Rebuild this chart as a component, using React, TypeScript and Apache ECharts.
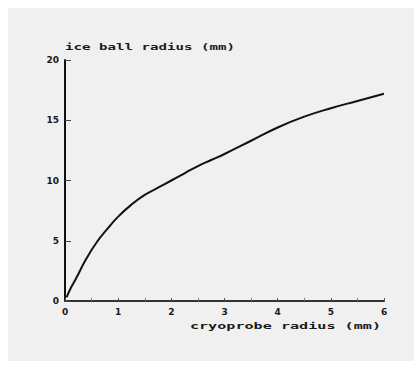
import React, { useEffect, useRef } from "react";
import * as echarts from "echarts";

const probeRadius = [0.03, 0.1, 0.2, 0.4, 0.6, 0.8, 1.0, 1.25, 1.5, 1.75, 2.0, 2.25, 2.5, 2.75, 3.0, 3.5, 4.0, 4.5, 5.0, 5.5, 6.0];
const iceBallRadius = [0.3, 1.0, 1.8, 3.5, 4.9, 6.0, 7.0, 8.0, 8.8, 9.4, 10.0, 10.6, 11.2, 11.7, 12.2, 13.3, 14.4, 15.3, 16.0, 16.6, 17.2];
const yTitle = "ice ball radius (mm)";
const xTitle = "cryoprobe radius (mm)";

export default function App() {
  const ref = useRef<HTMLDivElement>(null);
  useEffect(() => {
    document.body.style.margin = "0";
    const chart = echarts.init(ref.current!, null, { renderer: "svg" });
    const font = "DejaVu Sans";
    const mono = "DejaVu Sans Mono";
    chart.setOption({
      animation: false,
      backgroundColor: "#ffffff",
      graphic: [
        { type: "rect", left: 8, top: 8, shape: { width: 406, height: 353 }, style: { fill: "#f0f0f0" }, z: -10 },
        {
          type: "text",
          x: 65,
          y: 42,
          scaleX: 1.57,
          style: { text: yTitle, font: `bold 9px '${mono}'`, fill: "#1a1a1a", textAlign: "left", textVerticalAlign: "top" },
        },
        {
          type: "text",
          x: 381,
          y: 321,
          scaleX: 1.68,
          style: { text: xTitle, font: `bold 9px '${mono}'`, fill: "#1a1a1a", textAlign: "right", textVerticalAlign: "top" },
        },
      ],
      grid: { left: 65, right: 35, top: 60, bottom: 68 },
      xAxis: {
        type: "value",
        min: 0,
        max: 6,
        interval: 1,
        axisLine: { show: true, lineStyle: { color: "#333", width: 2 } },
        axisTick: { show: true, inside: true, length: 3, lineStyle: { color: "#555" } },
        minorTick: { show: true, splitNumber: 2, length: 3, lineStyle: { color: "#777" } },
        splitLine: { show: false },
        axisLabel: { color: "#1a1a1a", fontFamily: font, fontWeight: "bold", fontSize: 9, margin: 6 },
      },
      yAxis: {
        type: "value",
        min: 0,
        max: 20,
        interval: 5,
        axisLine: { show: true, lineStyle: { color: "#111", width: 2 } },
        axisTick: { show: true, inside: true, length: 6, lineStyle: { color: "#444" } },
        splitLine: { show: false },
        axisLabel: { color: "#1a1a1a", fontFamily: font, fontWeight: "bold", fontSize: 9, margin: 6 },
      },
      series: [
        {
          type: "line",
          data: probeRadius.map((x, i) => [x, iceBallRadius[i]]),
          smooth: true,
          showSymbol: false,
          lineStyle: { color: "#111", width: 2 },
        },
      ],
    });
    return () => chart.dispose();
  }, []);
  return <div ref={ref} style={{ position: "absolute", left: 0, top: 0, width: 419, height: 369 }} />;
}
